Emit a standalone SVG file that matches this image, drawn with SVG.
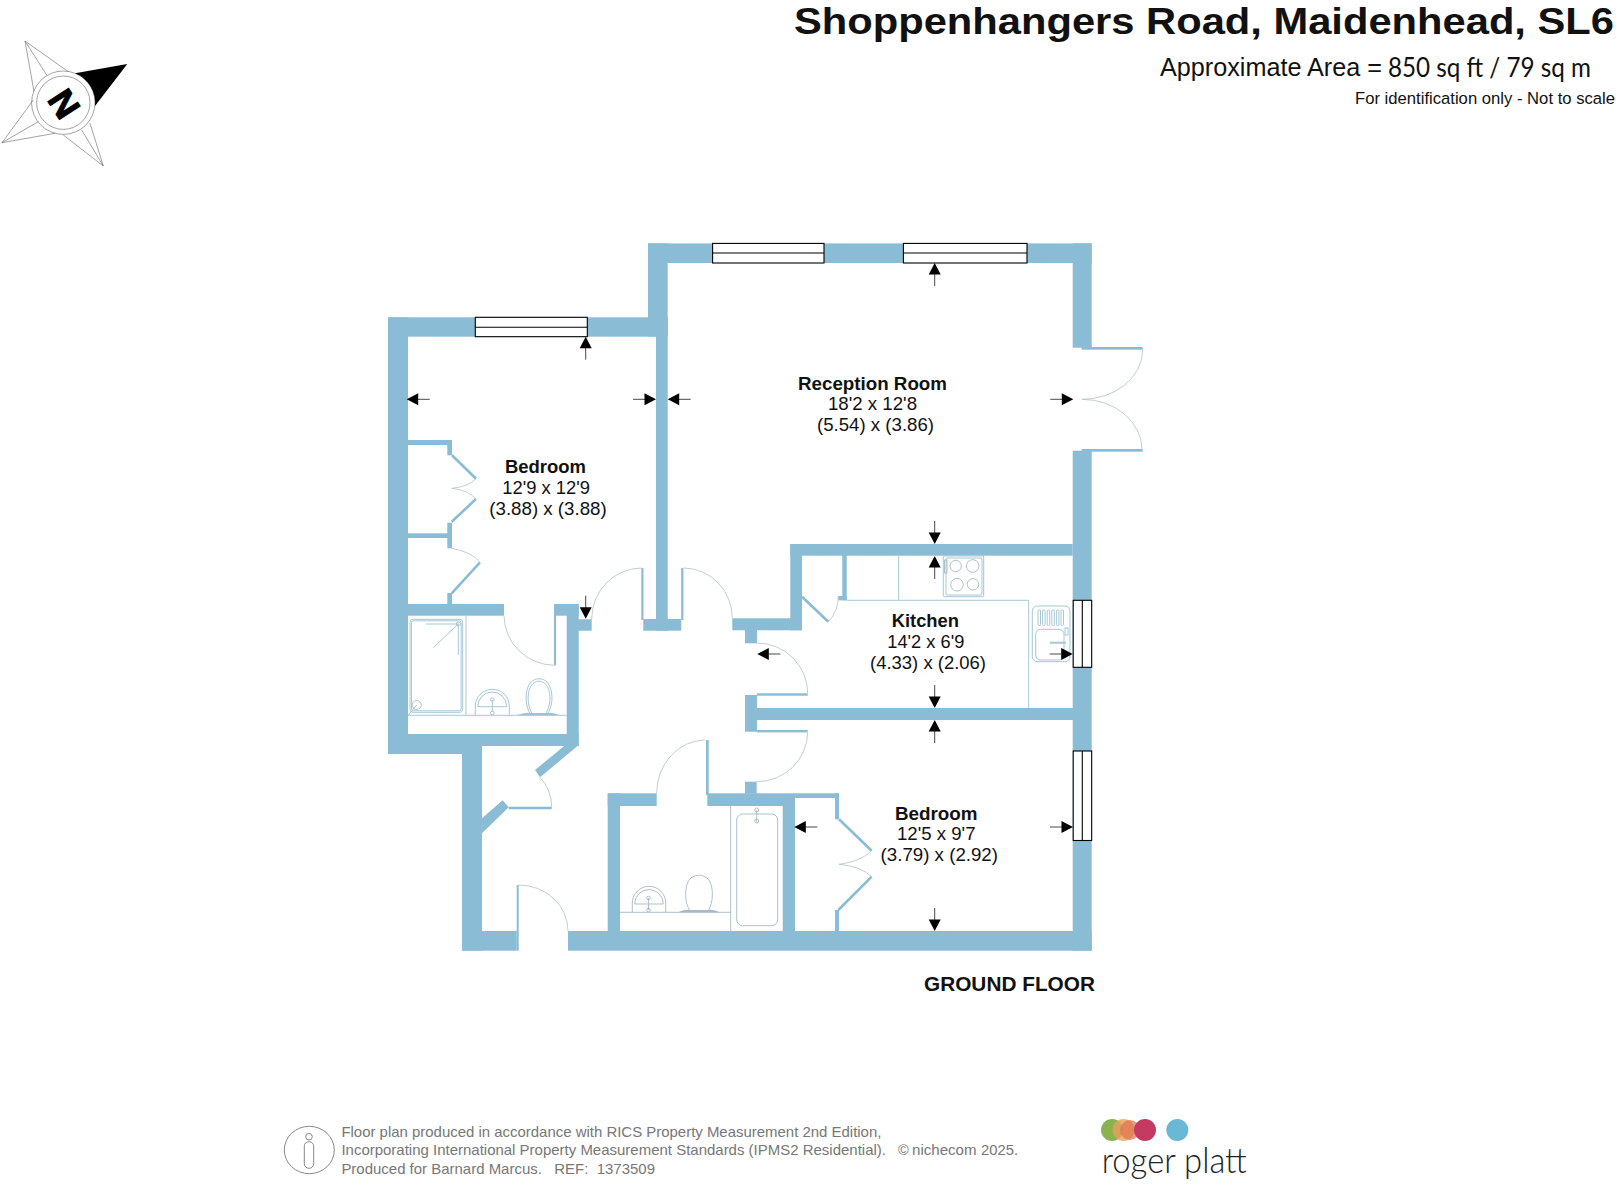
<svg xmlns="http://www.w3.org/2000/svg" width="1616" height="1184" viewBox="0 0 1616 1184">
<style>
text{font-family:"Liberation Sans",Arial,sans-serif;fill:#111}
.b{font-weight:700}
.r{font-size:18.5px}
.f{font-size:14.6px;fill:#777}
.w{fill:#8abcd5}
.win{fill:#fff;stroke:#000;stroke-width:1.1}
.arc{fill:none;stroke:#b4c0c5;stroke-width:.8}
.fx{fill:none;stroke:#a6c8d6;stroke-width:1}
.fg{fill:none;stroke:#a6bac3;stroke-width:.9}
.lf{fill:none;stroke:#8abcd5;stroke-width:2.6}
.st{fill:none;stroke:#666;stroke-width:.6}
</style>
<defs>
<g id="a"><path d="M-23 0H-8" stroke="#333" stroke-width=".9"/><path d="M0 0L-11.5-6V6Z" fill="#000"/></g>
</defs>
<rect width="1616" height="1184" fill="#fff"/>
<g id="title">
<text class="b" x="794" y="33.8" font-size="37" textLength="820" lengthAdjust="spacingAndGlyphs">Shoppenhangers Road, Maidenhead, SL6</text>
<text x="1160" y="75.5" font-size="25" textLength="222" lengthAdjust="spacingAndGlyphs">Approximate Area =</text>
<text x="1388" y="76.5" font-size="27" textLength="203" lengthAdjust="spacingAndGlyphs" style="font-family:Lato,'Open Sans',sans-serif">850 sq ft / 79 sq m</text>
<text x="1355" y="104" font-size="16.8" textLength="260" lengthAdjust="spacingAndGlyphs">For identification only - Not to scale</text>
</g>
<g id="compass">
<circle class="st" cx="63.3" cy="102.7" r="31.7"/><circle class="st" cx="63.3" cy="102.7" r="26.7"/>
<path class="st" d="M25 41L68.3 71.7M25 41L46.7 75M25 41L34 91.7M2 142.7L33.3 100M2 142.7L38.3 121.7M2 142.7L55 133.3M103.3 166L63.3 135M103.3 166L81.7 130M103.3 166L90 123.3"/>
<path d="M75 73.3L127.3 64L95 106A32 32 0 0 0 75 73.3Z" fill="#000"/>
<text class="b" x="0" y="0" font-size="36" text-anchor="middle" transform="translate(64.5 103.5) rotate(57) translate(0 13)" style="fill:#000;stroke:#000;stroke-width:1">N</text>
</g>
<g id="walls" class="w">
<rect x="388" y="317.3" width="20" height="436.7"/>
<rect x="388" y="317.3" width="279.7" height="19.4"/>
<rect x="648" y="243.4" width="19.7" height="93"/>
<rect x="656" y="317.3" width="11.7" height="313.4"/>
<rect x="643.3" y="619" width="38" height="11.7"/>
<rect x="641.3" y="568" width="2.2" height="52"/>
<rect x="681.2" y="568" width="2.2" height="52"/>
<rect x="648" y="243.4" width="443.7" height="19.6"/>
<rect x="1072.7" y="243.4" width="19" height="104.3"/>
<rect x="1072.7" y="450.7" width="19" height="500"/>
<rect x="1081.7" y="347" width="61" height="2.7"/>
<rect x="1081.7" y="449" width="61" height="2.7"/>
<rect x="790.3" y="544" width="282.4" height="11.7"/>
<rect x="790.3" y="544" width="11.7" height="86.3"/>
<rect x="732.3" y="618.3" width="69.7" height="12"/>
<rect x="745" y="630" width="12" height="13.3"/>
<rect x="745" y="695" width="12" height="36.7"/>
<rect x="757" y="708" width="316" height="12"/>
<rect x="757" y="693.3" width="50.7" height="2.4"/>
<rect x="757" y="730" width="50.7" height="2.4"/>
<rect x="745" y="781.7" width="11.7" height="12"/>
<rect x="707.3" y="793.3" width="87.7" height="12.7"/>
<rect x="795" y="793.3" width="44" height="4.7"/>
<rect x="835" y="793.3" width="4" height="26"/>
<rect x="782.7" y="806" width="12.3" height="125"/>
<rect x="835" y="910" width="4" height="21"/>
<rect x="568" y="931" width="523.7" height="19.7"/>
<rect x="462" y="931" width="54.7" height="19.7"/>
<rect x="516.7" y="885" width="2" height="65.7"/>
<rect x="462" y="746" width="20" height="204.7"/>
<rect x="388" y="734" width="190.7" height="12"/>
<rect x="388" y="746" width="74" height="8"/>
<rect x="566.7" y="604" width="12" height="142"/>
<rect x="555" y="604" width="23.7" height="11.7"/>
<rect x="578" y="619.3" width="13.7" height="11.4"/>
<rect x="408" y="604" width="96" height="11.7"/>
<rect x="554" y="604" width="2" height="61.3"/>
<rect x="607.7" y="793.3" width="12.3" height="137.7"/>
<rect x="607.7" y="793.3" width="49" height="12.7"/>
<rect x="706" y="740" width="2.7" height="55"/>
<rect x="408" y="440" width="44" height="5"/>
<rect x="447.3" y="440" width="4.7" height="15.3"/>
<rect x="447.3" y="522.7" width="4.7" height="25.6"/>
<rect x="408" y="533.3" width="40" height="4.7"/>
<rect x="447.3" y="593" width="4.7" height="12"/>
<rect x="842.3" y="555" width="4.4" height="45.3"/>
<rect x="838.3" y="596" width="8.4" height="4.3"/>
<path d="M578.7 745L540 777.3L535 770L566.7 744Z"/>
<path d="M482 818.3L502.7 800.3L508.7 807.3L482 833.3Z"/>
<rect x="508.7" y="806.7" width="43" height="2.6"/>
</g>
<g id="thin-leaves">
<path class="lf" d="M452 455.3L476 478.7M476 499L451.7 521.7M480 562.3L451.7 593.3M802 596.7L828.3 621.7M839 819.3L871.7 850.7M871.7 876.7L838.3 910"/>
</g>
<g id="door-arcs" class="arc">
<path d="M504 615.7A51 50 0 0 0 555 665.3"/>
<path d="M591.7 619.3A50 51 0 0 1 641.3 568"/>
<path d="M683.3 568A49 50 0 0 1 732.3 618.3"/>
<path d="M757 643A50.7 50.3 0 0 1 807.7 693.3"/>
<path d="M807.7 732A51 50 0 0 1 756.7 781.7"/>
<path d="M540 777.3A44 44 0 0 1 551.7 807.3"/>
<path d="M518.7 885A49 46 0 0 1 568 931"/>
<path d="M656.7 793.3A49 53 0 0 1 705 740"/>
<path d="M828.3 621.7A36 36 0 0 0 838.3 596"/>
<path d="M1142.7 350A60.7 49.5 0 0 1 1082 399.3"/>
<path d="M1082 399.3A60 50.5 0 0 1 1142 450"/>
<path d="M476 478.7Q468 487 451.7 488.3M451.7 488.3Q468 490 476 499M451.7 548.3Q472 552 480 562.3M871.7 850.7Q860 862 839 864.3M839 864.3Q860 866 871.7 876.7"/>
</g>
<g id="windows">
<rect class="win" x="475.3" y="317.3" width="112" height="19.4"/><path class="win" d="M475.3 327.3H587.3"/>
<rect class="win" x="712.6" y="243.4" width="111.4" height="19.6"/><path class="win" d="M712.6 253H824"/>
<rect class="win" x="903.4" y="243.4" width="123.6" height="19.6"/><path class="win" d="M903.4 253H1027"/>
<rect class="win" x="1073.2" y="600.3" width="18.5" height="67"/><path class="win" d="M1082.3 600.3V667.3"/>
<rect class="win" x="1073.2" y="751" width="18.5" height="89.5"/><path class="win" d="M1082.3 751V840.5"/>
</g>
<g id="fixtures">
<path class="fx" d="M466 615.7V715.3M408 715.3H566.7"/>
<rect class="fx" x="410" y="619.3" width="52.7" height="93" rx="3"/>
<rect class="fx" x="411.5" y="620.8" width="49.7" height="90" rx="2"/>
<path class="fx" d="M458.3 624L433.3 647.7M426 624H458.3V655M416.7 705L408.3 715"/>
<circle class="fx" cx="458.3" cy="624" r="2"/><circle class="fx" cx="416.7" cy="705" r="4.5"/>
<path class="fx" d="M475.3 715.3V706A17 16.7 0 0 1 509.3 706V715.3M477.7 706.7A14.5 14.7 0 0 1 506.7 706.7H477.7M492.3 700V712"/>
<circle class="fx" cx="492.3" cy="699.5" r="1.8"/><circle class="fx" cx="492.3" cy="713" r="1.8"/>
<path class="fx" d="M531 715C524 705 526 692 528 687C532 676 546 676 550 687C553 694 553 706 547 715"/>
<path class="fx" d="M533 715C526 705 528 692 530 688C534 679 544 679 548 688C551 694 551 706 545 715"/>
<path d="M516.7 715.3Q524 712 531 713H547Q553 712 560 715.3Z" fill="#9dc3d3"/>
<path class="fx" d="M846.7 600.3H1028.7V708M898.7 555.7V600.3"/>
<rect class="fx" x="943.3" y="556" width="40.4" height="40.7" rx="1"/>
<rect class="fx" x="946" y="558" width="36" height="37" rx="1"/>
<circle class="fg" cx="955.7" cy="566" r="5.7"/><circle class="fg" cx="972.7" cy="566" r="6.3"/><circle class="fg" cx="957" cy="584.7" r="6.3"/><circle class="fg" cx="973" cy="584.3" r="5.7"/>
<rect class="fg" x="944.5" y="560" width="2.5" height="13"/>
<rect class="fx" x="1032.3" y="606" width="37.7" height="55.7" rx="5"/>
<rect class="fx" x="1035.7" y="629.3" width="28.3" height="30.7" rx="5"/>
<g class="fx"><rect x="1038" y="610" width="2.5" height="15.5" rx="1"/><rect x="1042.6" y="610" width="2.5" height="15.5" rx="1"/><rect x="1047.2" y="610" width="2.5" height="15.5" rx="1"/><rect x="1051.8" y="610" width="2.5" height="15.5" rx="1"/><rect x="1056.4" y="610" width="2.5" height="15.5" rx="1"/><rect x="1061" y="610" width="2.5" height="15.5" rx="1"/></g>
<rect class="fx" x="1065" y="628" width="3" height="7"/>
<path d="M1050 642.7H1066" stroke="#a6c8d6" stroke-width="2" fill="none"/>
<path class="fg" d="M620 912.3H730.7M730.7 806V931"/>
<rect class="fg" x="736.7" y="814" width="41" height="111.7" rx="6"/>
<path class="fg" d="M756.7 810V822"/><circle class="fg" cx="756.7" cy="810" r="2"/><circle class="fg" cx="756.7" cy="821" r="2"/>
<path class="fg" d="M632.3 912.3V903A16.7 16.7 0 0 1 665.7 903V912.3M634.7 904A14.3 14.5 0 0 1 663.3 904H634.7M648.5 898V910"/>
<circle class="fg" cx="648.5" cy="898" r="1.8"/><circle class="fg" cx="648.5" cy="910" r="1.8"/>
<path class="fg" d="M690 911C684 902 685 888 688 882C692 873 706 873 710 882C713 888 714 902 708 911"/>
<path d="M678 912.3Q684 909 690 910H708Q714 909 720 912.3Z" fill="#a6bac3"/>
</g>
<g id="arrows">
<use href="#a" transform="translate(585.7 336.7) rotate(-90)"/>
<use href="#a" transform="translate(406.7 399.3) rotate(180)"/>
<use href="#a" transform="translate(656 399.3)"/>
<use href="#a" transform="translate(667.7 399.3) rotate(180)"/>
<use href="#a" transform="translate(585.7 618.7) rotate(90)"/>
<use href="#a" transform="translate(934.7 263) rotate(-90)"/>
<use href="#a" transform="translate(934.7 544) rotate(90)"/>
<use href="#a" transform="translate(1073.3 399.3)"/>
<use href="#a" transform="translate(934.7 556) rotate(-90)"/>
<use href="#a" transform="translate(757.3 654) rotate(180)"/>
<use href="#a" transform="translate(1072.7 654)"/>
<use href="#a" transform="translate(934.7 708) rotate(90)"/>
<use href="#a" transform="translate(934.7 720) rotate(-90)"/>
<use href="#a" transform="translate(794.3 827) rotate(180)"/>
<use href="#a" transform="translate(1073 827)"/>
<use href="#a" transform="translate(934.7 931) rotate(90)"/>
</g>
<g id="labels">
<g id="bedroom-1"><text class="b r" x="505" y="472.7" textLength="81" lengthAdjust="spacingAndGlyphs">Bedroom</text><text class="r" x="502.3" y="494" textLength="87.7" lengthAdjust="spacingAndGlyphs">12'9 x 12'9</text><text class="r" x="489.3" y="515" textLength="117.4" lengthAdjust="spacingAndGlyphs">(3.88) x (3.88)</text></g>
<g id="reception"><text class="b r" x="798" y="390" textLength="149" lengthAdjust="spacingAndGlyphs">Reception Room</text><text class="r" x="828" y="410" textLength="89" lengthAdjust="spacingAndGlyphs">18'2 x 12'8</text><text class="r" x="817" y="431" textLength="117" lengthAdjust="spacingAndGlyphs">(5.54) x (3.86)</text></g>
<g id="kitchen"><text class="b r" x="891.7" y="626.7" textLength="67.3" lengthAdjust="spacingAndGlyphs">Kitchen</text><text class="r" x="887.3" y="647.7" textLength="77" lengthAdjust="spacingAndGlyphs">14'2 x 6'9</text><text class="r" x="870" y="669" textLength="116" lengthAdjust="spacingAndGlyphs">(4.33) x (2.06)</text></g>
<g id="bedroom-2"><text class="b r" x="895" y="819.5" textLength="82.6" lengthAdjust="spacingAndGlyphs">Bedroom</text><text class="r" x="897" y="839.7" textLength="78.5" lengthAdjust="spacingAndGlyphs">12'5 x 9'7</text><text class="r" x="880.6" y="861" textLength="117.4" lengthAdjust="spacingAndGlyphs">(3.79) x (2.92)</text></g>
<text class="b" x="924" y="991" font-size="20.8" textLength="171" lengthAdjust="spacingAndGlyphs">GROUND FLOOR</text>
</g>
<g id="footer">
<ellipse cx="309.3" cy="1150" rx="25" ry="23.7" fill="none" stroke="#888" stroke-width="1"/>
<circle cx="309" cy="1136.7" r="3.3" fill="none" stroke="#888" stroke-width="1"/>
<rect x="304.3" y="1141.7" width="9.4" height="26.6" rx="4.5" fill="none" stroke="#888" stroke-width="1"/>
<text class="f" x="341.4" y="1136.7" textLength="540" lengthAdjust="spacingAndGlyphs">Floor plan produced in accordance with RICS Property Measurement 2nd Edition,</text>
<text class="f" x="341.4" y="1155" textLength="544.6" lengthAdjust="spacingAndGlyphs">Incorporating International Property Measurement Standards (IPMS2 Residential).</text>
<text class="f" x="341.4" y="1174" textLength="313.6" lengthAdjust="spacingAndGlyphs" xml:space="preserve">Produced for Barnard Marcus.   REF:  1373509</text>
<text class="f" x="898" y="1155">©</text>
<text class="f" x="912" y="1155" textLength="64.6" lengthAdjust="spacingAndGlyphs">nichecom</text>
<text class="f" x="981" y="1155" textLength="37" lengthAdjust="spacingAndGlyphs">2025.</text>
</g>
<g id="logo">
<circle cx="1112" cy="1130" r="11" fill="#8ab34f"/>
<circle cx="1123.5" cy="1130" r="11" fill="#e8a05a" fill-opacity=".8"/>
<circle cx="1130" cy="1130" r="10" fill="#e0704f" fill-opacity=".7"/>
<circle cx="1145" cy="1130" r="11" fill="#c43a63"/>
<ellipse cx="1177.3" cy="1130" rx="11" ry="11" fill="#6bb7d6"/>
<text x="1101.7" y="1173" font-size="36" font-weight="300" textLength="145" lengthAdjust="spacingAndGlyphs" style="font-family:Lato,'Open Sans',sans-serif;fill:#222">roger platt</text>
</g>
</svg>
